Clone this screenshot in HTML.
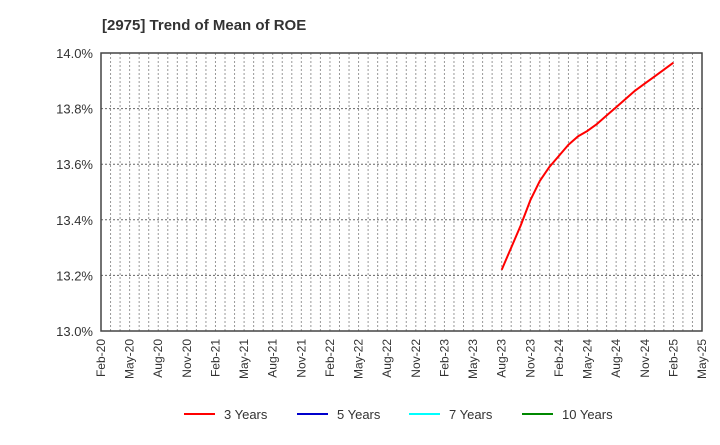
<!DOCTYPE html>
<html><head><meta charset="utf-8"><style>
body{margin:0;background:#fff;font-family:"Liberation Sans",sans-serif}
</style></head><body>
<svg id="c" width="720" height="440" xmlns="http://www.w3.org/2000/svg">
<text x="102" y="30" font-size="15" font-weight="bold" fill="#333">[2975]  Trend of Mean of ROE</text>
<g id="grid"></g><g id="axes"></g><g id="series"></g>
<g font-size="13" fill="#333">
<g><line x1="184" y1="414" x2="215" y2="414" stroke="#f00" stroke-width="2"/><text x="224" y="419">3 Years</text></g>
<g><line x1="297" y1="414" x2="328" y2="414" stroke="#00c" stroke-width="2"/><text x="337" y="419">5 Years</text></g>
<g><line x1="409" y1="414" x2="440" y2="414" stroke="#0ff" stroke-width="2"/><text x="449" y="419">7 Years</text></g>
<g><line x1="522" y1="414" x2="553" y2="414" stroke="#080" stroke-width="2"/><text x="562" y="419">10 Years</text></g>
</g>
</svg>
<script>
const xLabels=["Feb-20","May-20","Aug-20","Nov-20","Feb-21","May-21","Aug-21","Nov-21","Feb-22","May-22","Aug-22","Nov-22","Feb-23","May-23","Aug-23","Nov-23","Feb-24","May-24","Aug-24","Nov-24","Feb-25","May-25"];
const yTicks=[13.0,13.2,13.4,13.6,13.8,14.0];
const startIndex=42;
const roe3y=[13.22,13.30,13.38,13.47,13.54,13.59,13.63,13.67,13.70,13.72,13.745,13.775,13.805,13.835,13.865,13.89,13.915,13.94,13.965];
const L=101,R=702,T=53,B=331,N=63;
const ns="http://www.w3.org/2000/svg";
const xs=i=>L+i*(R-L)/N, ys=v=>B-(v-13)/(1.0)*(B-T);
function mk(tag,attrs,parent){const e=document.createElementNS(ns,tag);for(const k in attrs)e.setAttribute(k,attrs[k]);document.getElementById(parent).appendChild(e);return e;}
for(let i=1;i<N;i++){const e=mk('line',{x1:xs(i),x2:xs(i),y1:T,y2:B,stroke:'#999','stroke-dasharray':'2,2'},'grid');

}
yTicks.forEach(v=>{if(v>13&&v<14){const e=mk('line',{x1:L,x2:R,y1:ys(v),y2:ys(v),stroke:'#666','stroke-dasharray':'2,2'},'grid');

}
const t=mk('text',{x:L-8,y:ys(v)+5,'text-anchor':'end','font-size':'13',fill:'#333'},'axes');t.textContent=v.toFixed(1)+'%';

});
const fr=mk('rect',{x:L,y:T,width:R-L,height:B-T,fill:'none',stroke:'#444','stroke-width':1.5},'axes');


xLabels.forEach((s,k)=>{const x=xs(k*3);const t=mk('text',{transform:`translate(${x+4},${B+8}) rotate(-90)`,'text-anchor':'end','font-size':'12',fill:'#333'},'axes');t.textContent=s;

});
const p=mk('polyline',{points:roe3y.map((v,i)=>xs(startIndex+i)+','+ys(v)).join(' '),fill:'none',stroke:'#f00','stroke-width':2,'stroke-linejoin':'round'},'series');


</script>
</body></html>
